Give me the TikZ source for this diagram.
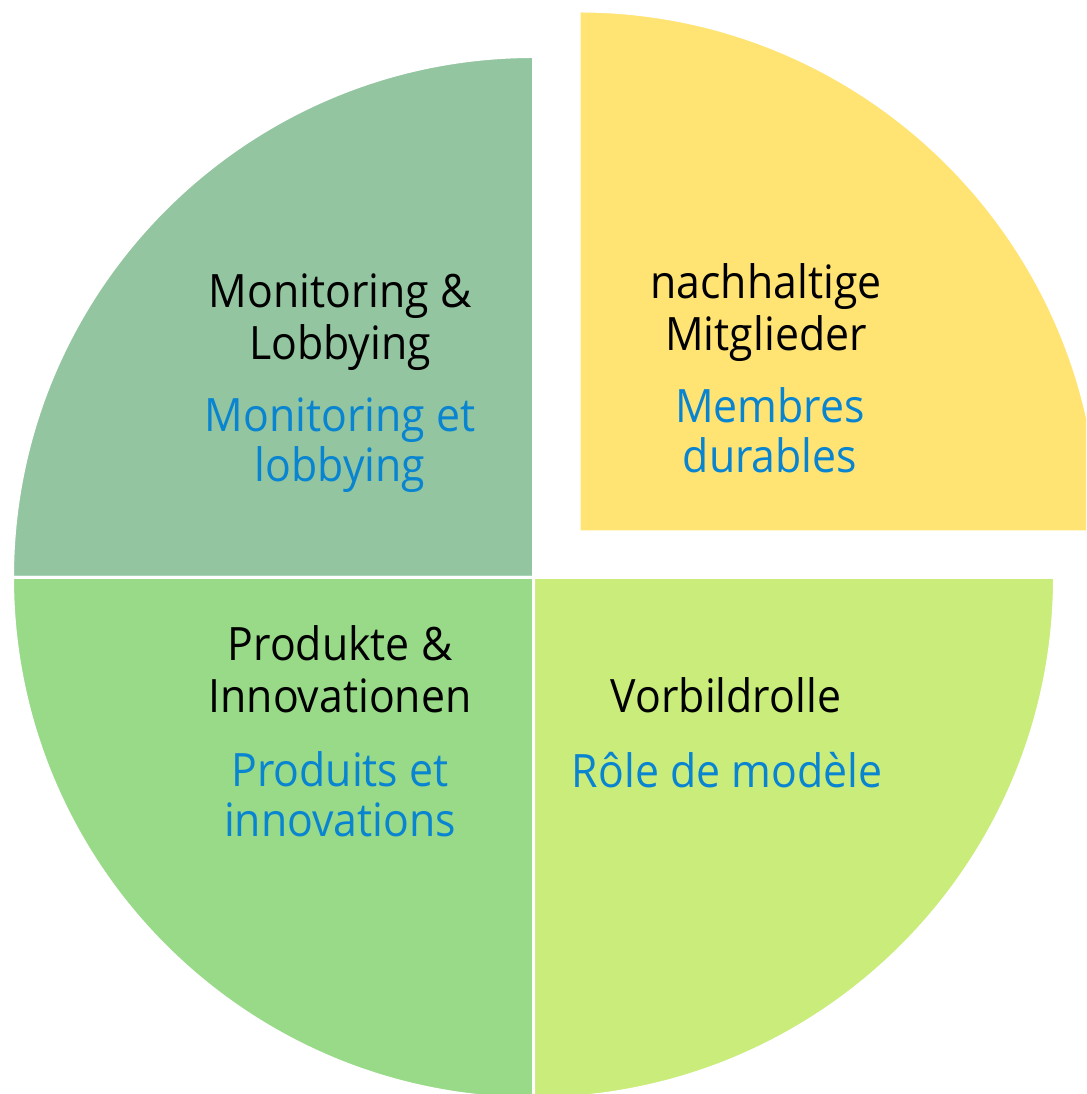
\documentclass[tikz,border=0pt]{standalone}
\usepackage{fontspec}
\setmainfont[FakeStretch=0.93]{Open Sans}
\definecolor{cGrey}{HTML}{93C6A0}
\definecolor{cYellow}{HTML}{FFE373}
\definecolor{cLime}{HTML}{C9EC7B}
\definecolor{cGreen}{HTML}{98DA88}
\definecolor{cBlue}{HTML}{0984D1}
\begin{document}
\begin{tikzpicture}[x=1pt,y=1pt,
  slice/.style={draw=white,line width=3pt},
  de/.style={font=\fontsize{46}{52}\selectfont,text=black,align=center,inner sep=0pt,anchor=base},
  fr/.style={font=\fontsize{46}{50}\selectfont,text=cBlue,align=center,inner sep=0pt,anchor=base}]
\useasboundingbox (0,0) rectangle (1086,1094);
\clip (0,0) rectangle (1086,1094);
\coordinate (C) at (533.5,516.5);
\coordinate (Y) at (579,562);
\def\R{521}
% slices
\filldraw[slice,fill=cGrey] (C) -- ++(-\R,0) arc[start angle=180,end angle=90,radius=\R] -- cycle;
\filldraw[slice,fill=cGreen] (C) -- ++(0,-\R) arc[start angle=270,end angle=180,radius=\R] -- cycle;
\filldraw[slice,fill=cLime] (C) -- ++(\R,0) arc[start angle=0,end angle=-90,radius=\R] -- cycle;
\filldraw[slice,fill=cYellow] (Y) -- ++(0,\R) arc[start angle=90,end angle=0,radius=\R] -- cycle;
% texts (anchor = baseline of last line)
\node[de] (mlde) at (340,734) {Monitoring \&\\Lobbying};
\node[fr] (mlfr) at (340,612) {Monitoring et\\lobbying};
\node[de] (nmde) at (766,743) {nachhaltige\\Mitglieder};
\node[fr] (nmfr) at (770,621) {Membres\\durables};
\node[de] (pide) at (340,381) {Produkte \&\\Innovationen};
\node[fr] (pifr) at (340,257) {Produits et\\innovations};
\node[de] (vbde) at (726,381) {Vorbildrolle};
\node[fr] (vbfr) at (727,306) {Rôle de modèle};
\end{tikzpicture}
\end{document}
